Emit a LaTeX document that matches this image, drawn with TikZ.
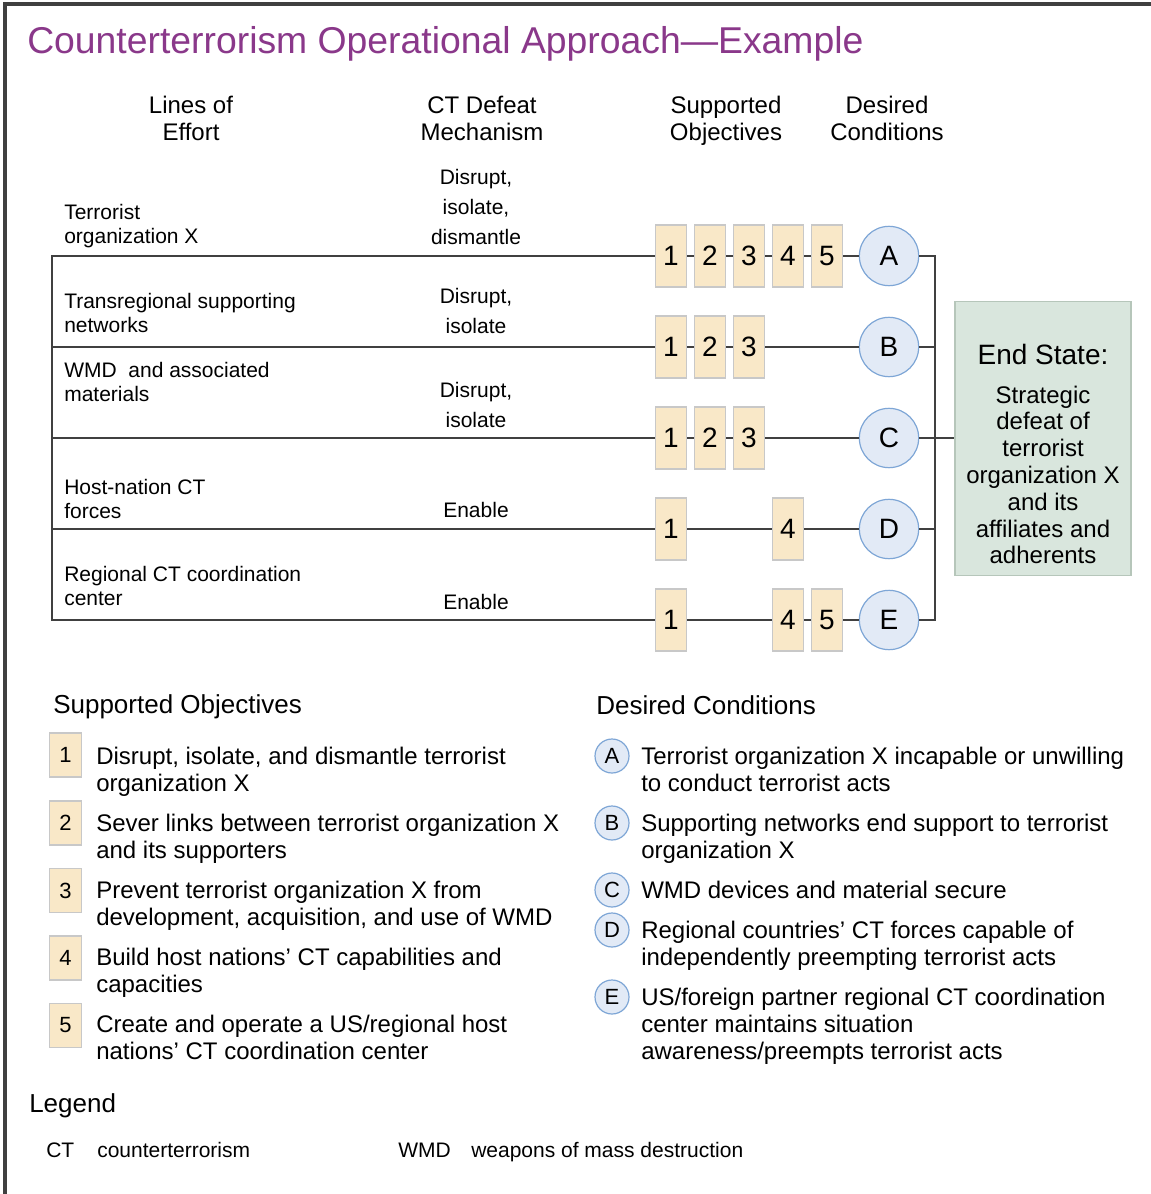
\documentclass[tikz,border=0pt]{standalone}
\usepackage{fontspec}
\setmainfont{Liberation Sans}
\definecolor{linec}{RGB}{64,64,64}
\definecolor{boxfill}{RGB}{249,232,200}
\definecolor{boxedge}{RGB}{200,200,200}
\definecolor{circfill}{RGB}{226,234,246}
\definecolor{circedge}{RGB}{126,166,214}
\definecolor{esfill}{RGB}{217,230,221}
\definecolor{esedge}{RGB}{182,198,186}
\definecolor{titlec}{RGB}{138,56,138}
\begin{document}
\begin{tikzpicture}[x=0.75pt,y=-0.75pt,
  conn/.style={draw=linec, line width=2.2pt},
  frame/.style={draw=linec, line width=2.4pt},
  numbox/.style={rectangle, fill=boxfill, draw=boxedge, line width=0.9pt, minimum width=23.5pt, minimum height=46.5pt, inner sep=0pt, font=\fontsize{21}{24}\selectfont},
  circ/.style={circle, fill=circfill, draw=circedge, line width=0.9pt, minimum size=44.5pt, inner sep=0pt, font=\fontsize{21}{24}\selectfont},
  smallbox/.style={numbox, minimum height=33pt, font=\fontsize{16.5}{19}\selectfont},
  smallcirc/.style={circ, minimum size=25.5pt, font=\fontsize{16.5}{19}\selectfont},
  hdr/.style={align=center, inner sep=0pt, font=\fontsize{18}{20.25}\selectfont},
  loe/.style={align=left, anchor=west, inner sep=0pt, font=\fontsize{15.75}{18}\selectfont},
  mech/.style={align=center, inner sep=0pt, font=\fontsize{15.75}{22.5}\selectfont},
  item/.style={align=left, anchor=west, inner sep=0pt, font=\fontsize{18}{20.25}\selectfont},
  sechead/.style={anchor=west, inner sep=0pt, font=\fontsize{19.5}{22}\selectfont},
  leg/.style={anchor=west, inner sep=0pt, font=\fontsize{15.75}{18}\selectfont},
]
\useasboundingbox (0,0) rectangle (1151,1194);
\fill[white] (0,0) rectangle (1151,1194);
\draw[frame] (5,1194) -- (5,4) -- (1151,4);

% title
\node[anchor=west, inner sep=0pt, text=titlec, font=\fontsize{28}{32}\selectfont] (title) at (27,44) {Counterterrorism Operational Approach—Example};

% column headers
\node[hdr] (h1) at (191,118) {Lines of\\Effort};
\node[hdr] (h2) at (482,118) {CT Defeat\\Mechanism};
\node[hdr] (h3) at (726,121) {Supported\\Objectives};
\node[hdr] (h4) at (887,118) {Desired\\Conditions};

% lines of effort labels
\node[loe] (l1) at (64,226) {Terrorist\\organization X};
\node[loe] (l2) at (64,313) {Transregional supporting\\networks};
\node[loe] (l3) at (64,382) {WMD\ \ and associated\\materials};
\node[loe] (l4) at (64,499) {Host-nation CT\\forces};
\node[loe] (l5) at (64,586) {Regional CT coordination\\center};

% mechanisms
\node[mech] (m1) at (476,207) {Disrupt,\\isolate,\\dismantle};
\node[mech] (m2) at (476,311) {Disrupt,\\isolate};
\node[mech] (m3) at (476,405) {Disrupt,\\isolate};
\node[mech] (m4) at (476,510) {Enable};
\node[mech] (m5) at (476,602) {Enable};

% row anchors
\coordinate (la) at (52,256);
\coordinate (lb) at (52,347);
\coordinate (lc) at (52,438);
\coordinate (ld) at (52,529);
\coordinate (le) at (52,620);
\coordinate (ra) at (935,256);
\coordinate (re) at (935,620);

% row A
\node[numbox] (a1) at (671,256) {1};
\node[numbox] (a2) at (710,256) {2};
\node[numbox] (a3) at (749,256) {3};
\node[numbox] (a4) at (788,256) {4};
\node[numbox] (a5) at (827,256) {5};
\node[circ] (A) at (889,256) {A};
% row B
\node[numbox] (b1) at (671,347) {1};
\node[numbox] (b2) at (710,347) {2};
\node[numbox] (b3) at (749,347) {3};
\node[circ] (B) at (889,347) {B};
% row C
\node[numbox] (c1) at (671,438) {1};
\node[numbox] (c2) at (710,438) {2};
\node[numbox] (c3) at (749,438) {3};
\node[circ] (C) at (889,438) {C};
% row D
\node[numbox] (d1) at (671,529) {1};
\node[numbox] (d4) at (788,529) {4};
\node[circ] (D) at (889,529) {D};
% row E
\node[numbox] (e1) at (671,620) {1};
\node[numbox] (e4) at (788,620) {4};
\node[numbox] (e5) at (827,620) {5};
\node[circ] (E) at (889,620) {E};

% end state
\node[rectangle, fill=esfill, draw=esedge, line width=0.9pt, minimum width=132pt, minimum height=206pt, inner sep=0pt] (es) at (1043,438.5) {};
\node[inner sep=0pt, font=\fontsize{21}{24}\selectfont] (estitle) at (1043,354) {End State:};
\node[align=center, inner sep=0pt, font=\fontsize{18}{20.1}\selectfont] (esbody) at (1043,475) {Strategic\\defeat of\\terrorist\\organization X\\and its\\affiliates and\\adherents};

% connectors
\draw[conn] (a1) -- (la) -- (le) -- (e1);
\draw[conn] (a1) -- (a2) -- (a3) -- (a4) -- (a5) -- (A);
\draw[conn] (lb) -- (b1) -- (b2) -- (b3) -- (B);
\draw[conn] (lc) -- (c1) -- (c2) -- (c3) -- (C);
\draw[conn] (ld) -- (d1) -- (d4) -- (D);
\draw[conn] (e1) -- (e4) -- (e5) -- (E);
\draw[conn] (A) -- (ra) -- (re) -- (E);
\draw[conn] (B) -- (B -| ra);
\draw[conn] (D) -- (D -| ra);
\draw[conn] (C) -- (C -| es.west);

% supported objectives list
\node[sechead] (soh) at (53,707) {Supported Objectives};
\node[smallbox] (s1) at (65.5,755) {1};
\node[smallbox] (s2) at (65.5,823) {2};
\node[smallbox] (s3) at (65.5,890.5) {3};
\node[smallbox] (s4) at (65.5,958) {4};
\node[smallbox] (s5) at (65.5,1025.5) {5};
\node[item] (t1) at (96,772) {Disrupt, isolate, and dismantle terrorist\\organization X};
\node[item] (t2) at (96,839) {Sever links between terrorist organization X\\and its supporters};
\node[item] (t3) at (96,906) {Prevent terrorist organization X from\\development, acquisition, and use of WMD};
\node[item] (t4) at (96,973) {Build host nations’ CT capabilities and\\capacities};
\node[item] (t5) at (96,1037) {Create and operate a US/regional host\\nations’ CT coordination center};

% desired conditions list
\node[sechead] (dch) at (596,705) {Desired Conditions};
\node[smallcirc] (ca) at (612,756) {A};
\node[smallcirc] (cb) at (612,823) {B};
\node[smallcirc] (cc) at (612,890) {C};
\node[smallcirc] (cd) at (612,930) {D};
\node[smallcirc] (ce) at (612,997) {E};
\node[item] (u1) at (641,769) {Terrorist organization X incapable or unwilling\\to conduct terrorist acts};
\node[item] (u2) at (641,839) {Supporting networks end support to terrorist\\organization X};
\node[item] (u3) at (641,890) {WMD devices and material secure};
\node[item] (u4) at (641,946) {Regional countries’ CT forces capable of\\independently preempting terrorist acts};
\node[item] (u5) at (641,1026) {US/foreign partner regional CT coordination\\center maintains situation\\awareness/preempts terrorist acts};

% legend
\node[sechead] (legh) at (29,1106) {Legend};
\node[leg] (lg1) at (46,1150) {CT};
\node[leg] (lg2) at (97,1150) {counterterrorism};
\node[leg] (lg3) at (398,1150) {WMD};
\node[leg] (lg4) at (471,1152) {weapons of mass destruction};
\end{tikzpicture}
\end{document}
